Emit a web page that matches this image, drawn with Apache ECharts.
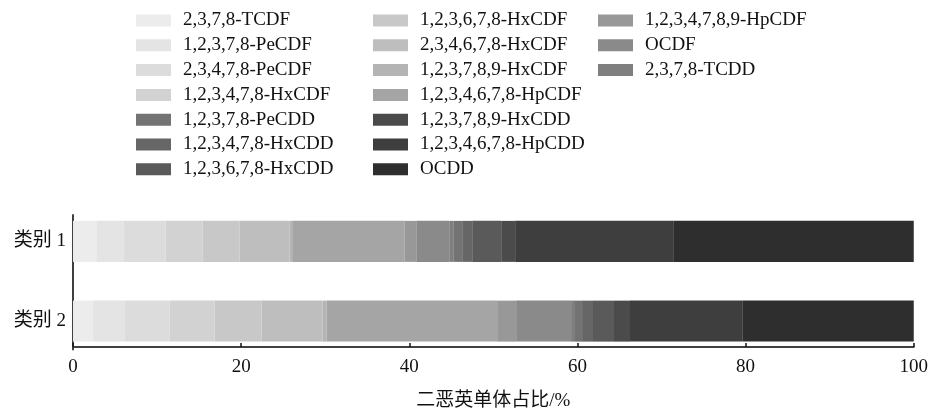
<!DOCTYPE html>
<html>
<head>
<meta charset="utf-8">
<title>二恶英单体占比</title>
<script src="https://cdn.jsdelivr.net/npm/echarts@6/dist/echarts.min.js"></script>
<style>
  html, body { margin: 0; padding: 0; background: #fff; }
  #main { width: 931px; height: 412px; }
</style>
</head>
<body>
<div id="main"></div>
<script>
// 类别
var categories = ['类别 1', '类别 2'];
// 单体名称（堆叠顺序）
var congeners = [
  '2,3,7,8-TCDF', '1,2,3,7,8-PeCDF', '2,3,4,7,8-PeCDF', '1,2,3,4,7,8-HxCDF',
  '1,2,3,6,7,8-HxCDF', '2,3,4,6,7,8-HxCDF', '1,2,3,7,8,9-HxCDF', '1,2,3,4,6,7,8-HpCDF',
  '1,2,3,4,7,8,9-HpCDF', 'OCDF', '2,3,7,8-TCDD', '1,2,3,7,8-PeCDD',
  '1,2,3,4,7,8-HxCDD', '1,2,3,6,7,8-HxCDD', '1,2,3,7,8,9-HxCDD', '1,2,3,4,6,7,8-HpCDD', 'OCDD'
];
// 类别 1 各单体占比 /%
var values1 = [2.79, 3.24, 4.99, 4.40, 4.39, 5.94, 0.32, 13.34, 1.42, 3.92, 0.48, 1.06, 1.19, 3.45, 1.66, 18.88, 28.53];
// 类别 2 各单体占比 /%
var values2 = [2.39, 3.80, 5.31, 5.34, 5.58, 7.28, 0.48, 20.27, 2.26, 6.53, 0.36, 0.95, 1.30, 2.50, 1.90, 13.42, 20.33];
// x 轴刻度
var xTicks = [0, 20, 40, 60, 80, 100];
// 图例三列
var legendCol1 = ['2,3,7,8-TCDF', '1,2,3,7,8-PeCDF', '2,3,4,7,8-PeCDF', '1,2,3,4,7,8-HxCDF',
  '1,2,3,7,8-PeCDD', '1,2,3,4,7,8-HxCDD', '1,2,3,6,7,8-HxCDD'];
var legendCol2 = ['1,2,3,6,7,8-HxCDF', '2,3,4,6,7,8-HxCDF', '1,2,3,7,8,9-HxCDF', '1,2,3,4,6,7,8-HpCDF',
  '1,2,3,7,8,9-HxCDD', '1,2,3,4,6,7,8-HpCDD', 'OCDD'];
var legendCol3 = ['1,2,3,4,7,8,9-HpCDF', 'OCDF', '2,3,7,8-TCDD'];

// 灰度配色
var grays = ['#ececec', '#e4e4e4', '#dcdcdc', '#d2d2d2', '#c8c8c8', '#bebebe', '#b4b4b4', '#a5a5a5',
  '#989898', '#8a8a8a', '#7f7f7f', '#737373', '#666666', '#5a5a5a', '#4b4b4b', '#3e3e3e', '#2e2e2e'];

var fontLatin = '"Liberation Serif", "Noto Sans CJK SC", serif';

var series = congeners.map(function (name, i) {
  return {
    name: name,
    type: 'bar',
    stack: 'total',
    barWidth: 41,
    itemStyle: { color: grays[i] },
    emphasis: { disabled: true },
    data: [values1[i], values2[i]]
  };
});

function makeLegend(names, left) {
  return {
    data: names,
    orient: 'vertical',
    left: left,
    top: 11,
    padding: 0,
    itemWidth: 35,
    itemHeight: 12,
    itemGap: 5.8,
    icon: 'rect',
    selectedMode: false,
    textStyle: { fontFamily: fontLatin, fontSize: 19, lineHeight: 19, color: '#111', padding: [0, 0, 0, 7] }
  };
}

var myChart = echarts.init(document.getElementById('main'));
myChart.setOption({
  animation: false,
  legend: [makeLegend(legendCol1, 136), makeLegend(legendCol2, 373), makeLegend(legendCol3, 598)],
  grid: [
    { left: 73, right: 16, top: 201.5, bottom: 48.5 },
    // 仅用来画 y 轴线
    { left: 73, right: 16, top: 215, bottom: 62.5 }
  ],
  xAxis: [{
    type: 'value',
    gridIndex: 0,
    min: 0,
    max: 100,
    interval: 20,
    offset: -14,
    name: '二恶英单体占比/%',
    nameLocation: 'middle',
    nameGap: 45,
    nameTextStyle: { fontFamily: fontLatin, fontSize: 19, color: '#111' },
    axisLine: { show: true, lineStyle: { color: '#404040', width: 2 } },
    axisTick: { show: true, inside: true, length: 4, lineStyle: { color: '#111', width: 1.5 } },
    axisLabel: {
      margin: 11, fontFamily: fontLatin, fontSize: 19, color: '#111',
      formatter: function (v) { return xTicks.indexOf(v) >= 0 ? String(v) : ''; }
    },
    splitLine: { show: false }
  }, {
    type: 'value', gridIndex: 1, show: false
  }],
  yAxis: [{
    type: 'category',
    gridIndex: 0,
    inverse: true,
    data: categories,
    axisLine: { show: false },
    axisTick: { show: true, inside: true, alignWithLabel: true, length: 5, lineStyle: { color: '#111', width: 1.5 } },
    axisLabel: { margin: 7, fontFamily: fontLatin, fontSize: 19, color: '#111' }
  }, {
    type: 'value',
    gridIndex: 1,
    axisLine: { show: true, lineStyle: { color: '#404040', width: 2 } },
    axisTick: { show: false },
    axisLabel: { show: false },
    splitLine: { show: false }
  }],
  series: series
});
</script>
</body>
</html>
